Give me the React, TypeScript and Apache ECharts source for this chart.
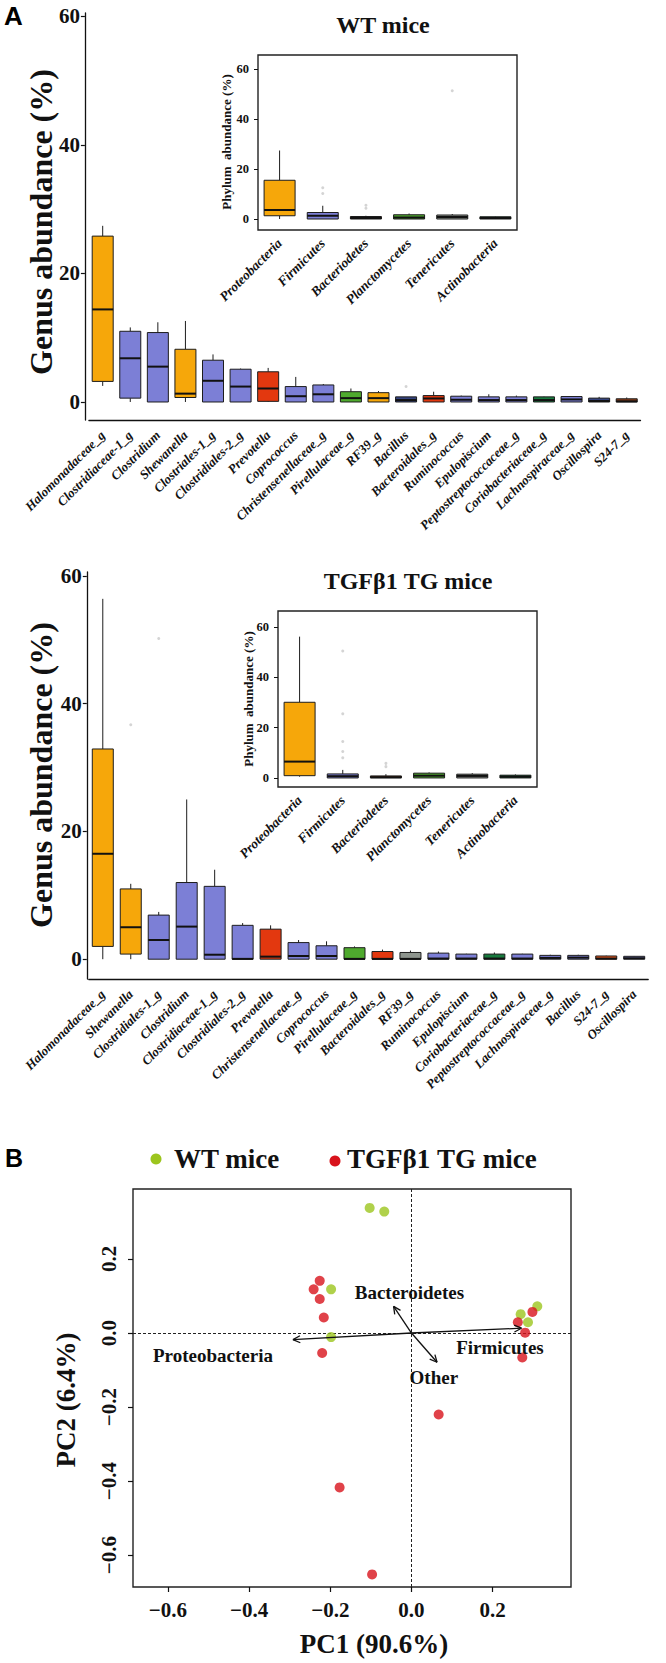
import React, { useEffect, useRef } from 'react';
import * as echarts from 'echarts';

// ---------- DATA ----------
const wtGenus = ['Halomonadaceae_g', 'Clostridiaceae-1_g', 'Clostridium', 'Shewanella', 'Clostriales-1_g', 'Clostridiales-2_g', 'Prevotella', 'Coprococcus', 'Christensenellaceae_g', 'Pirellulaceae_g', 'RF39_g', 'Bacillus', 'Bacteroidales_g', 'Ruminococcus', 'Epulopiscium', 'Peptostreptococcaceae_g', 'Coriobacteriaceae_g', 'Lachnospiraceae_g', 'Oscillospira', 'S24-7_g'];
// [min, Q1, median, Q3, max]
const wtGenusStats = [
  [2.5, 3.2, 14.4, 25.8, 27.4],
  [0, 0.6, 6.8, 11.0, 11.6],
  [0, 0, 5.5, 10.8, 12.4],
  [0, 0.7, 1.3, 8.2, 12.6],
  [0, 0, 3.3, 6.5, 7.4],
  [0, 0, 2.4, 5.1, 5.2],
  [0, 0.1, 2.1, 4.7, 5.3],
  [0, 0, 0.9, 2.4, 3.9],
  [0, 0, 1.2, 2.65, 2.8],
  [0, 0, 0.6, 1.6, 2.1],
  [0, 0, 0.6, 1.45, 1.7],
  [0, 0, 0.3, 0.8, 0.8],
  [0, 0, 0.55, 1.0, 1.6],
  [0, 0, 0.35, 0.9, 1.0],
  [0, 0, 0.3, 0.8, 1.2],
  [0, 0, 0.3, 0.8, 1.0],
  [0, 0, 0.3, 0.8, 0.85],
  [0, 0, 0.4, 0.85, 0.9],
  [0, 0, 0.15, 0.6, 0.8],
  [0, 0, 0.1, 0.5, 0.7],
];
const wtGenusOutliers = [[11, 2.4]];

const tgGenus = ['Halomonadaceae_g', 'Shewanella', 'Clostridiales-1_g', 'Clostridium', 'Clostridiaceae-1_g', 'Clostridiales-2_g', 'Prevotella', 'Christensenellaceae_g', 'Coprococcus', 'Pirellulaceae_g', 'Bacteroidales_g', 'RF39_g', 'Ruminococcus', 'Epulopiscium', 'Coriobacteriaceae_g', 'Peptostreptococcaceae_g', 'Lachnospiraceae_g', 'Bacillus', 'S24-7_g', 'Oscillospira'];
const tgGenusStats = [
  [0, 2.0, 16.5, 32.9, 56.4],
  [0, 0.8, 5.0, 11.0, 11.8],
  [0, 0, 3.0, 6.9, 7.4],
  [0, 0, 5.1, 12.0, 25.0],
  [0, 0, 0.7, 11.4, 14.0],
  [0, 0, 0.05, 5.3, 5.65],
  [0, 0, 0.4, 4.7, 5.3],
  [0, 0, 0.5, 2.6, 3.0],
  [0, 0, 0.5, 2.1, 2.8],
  [0, 0, 0.05, 1.8, 2.0],
  [0, 0, 0.05, 1.2, 1.5],
  [0, 0, 0.05, 1.05, 1.35],
  [0, 0, 0.1, 0.95, 1.2],
  [0, 0, 0.1, 0.8, 0.85],
  [0, 0, 0.1, 0.8, 1.05],
  [0, 0, 0.1, 0.8, 0.85],
  [0, 0, 0.2, 0.6, 0.7],
  [0, 0, 0.25, 0.6, 0.7],
  [0, 0, 0.1, 0.5, 0.55],
  [0, 0, 0.15, 0.45, 0.5],
];
const tgGenusOutliers = [[1, 36.7], [2, 50.2]];

const phyla = ['Proteobacteria', 'Firmicutes', 'Bacteriodetes', 'Planctomycetes', 'Tenericutes', 'Actinobacteria'];
const wtPhylumStats = [
  [0, 1.3, 3.6, 15.5, 27.4],
  [0, 0, 1.3, 2.6, 5.3],
  [0, 0, 0.4, 1.0, 1.3],
  [0, 0, 0.6, 1.7, 2.2],
  [0, 0, 0.8, 1.6, 2.0],
  [0, 0, 0.4, 0.9, 1.0],
];
const wtPhylumOutliers = [[1, 10.2], [1, 12.5], [2, 4.3], [2, 5.5], [4, 51.3]];
const tgPhylumStats = [
  [0.5, 0.9, 6.5, 30.1, 56.2],
  [0, 0, 0.7, 1.6, 3.2],
  [0, 0, 0.3, 0.8, 1.5],
  [0, 0, 0.9, 1.9, 2.2],
  [0, 0, 0.8, 1.5, 1.9],
  [0, 0, 0.5, 1.1, 1.4],
];
const tgPhylumOutliers = [[1, 8], [1, 10.5], [1, 14.5], [1, 25.5], [1, 50.5], [2, 4.5], [2, 5.8]];

const genusTicks = [0, 20, 40, 60];

const wtPC1 = [-0.103, -0.067, -0.198, -0.198, 0.269, 0.310, 0.287];
const wtPC2 = [0.338, 0.328, 0.118, -0.011, 0.051, 0.072, 0.029];
const tgPC1 = [-0.226, -0.241, -0.226, -0.216, -0.220, 0.262, 0.298, 0.280, 0.273, 0.067, -0.177, -0.097];
const tgPC2 = [0.141, 0.118, 0.092, 0.042, -0.054, 0.029, 0.057, 0.001, -0.066, -0.220, -0.417, -0.652];
const loadingNames = ['Proteobacteria', 'Firmicutes', 'Bacteroidetes', 'Other'];
const loadingPC1 = [-0.292, 0.271, -0.044, 0.063];
const loadingPC2 = [-0.018, 0.013, 0.072, -0.079];
const loadingLabelPC1 = [-0.489, 0.218, -0.005, 0.055];
const loadingLabelPC2 = [-0.062, -0.040, 0.109, -0.119];
const pcTicks = [-0.6, -0.4, -0.2, 0.0, 0.2];

// ---------- STYLE ----------
const SERIF = 'Liberation Serif';
const SANS = 'Liberation Sans';
const ORANGE = '#F6A70A';
const BLUE = '#7C7FD6';
const RED = '#E3380F';
const GREEN = '#4FAA2E';
const DKGREEN = '#187A3E';
const NAVY = '#34437E';
const BROWN = '#8A3B17';
const GRAY = '#8E958E';
const ORANGERED = '#E9561B';
const INK = '#111';

const wtGenusColors = [ORANGE, BLUE, BLUE, ORANGE, BLUE, BLUE, RED, BLUE, BLUE, GREEN, ORANGE, NAVY, RED, BLUE, BLUE, BLUE, DKGREEN, BLUE, NAVY, BROWN];
const tgGenusColors = [ORANGE, ORANGE, BLUE, BLUE, BLUE, BLUE, RED, BLUE, BLUE, GREEN, RED, GRAY, BLUE, BLUE, DKGREEN, BLUE, BLUE, BLUE, ORANGERED, BLUE];
const phylumColors = [ORANGE, BLUE, BROWN, GREEN, GRAY, DKGREEN];

const richNum = (size: number) => ({ t: { fontFamily: SERIF, fontWeight: 'bold', fontSize: size, color: INK } });
const intFmt = (v: number) => `{t|${Math.round(v)}}`;
const pcFmt = (v: number) => {
  const r = Math.round(v * 10) / 10;
  const s = r === 0 ? '0.0' : (r < 0 ? '\u2212' : '') + Math.abs(r).toFixed(1);
  return `{t|${s}}`;
};

function makeBoxRender(colors: string[], boxW: number) {
  return (params: any, api: any) => {
    const i = api.value(0);
    const pts = [1, 2, 3, 4, 5].map((d) => api.coord([i, api.value(d)]));
    const [pMin, pQ1, pMed, pQ3, pMax] = pts;
    const x = pMed[0];
    const h = boxW / 2;
    const stroke = '#1d1d1d';
    return {
      type: 'group',
      children: [
        { type: 'line', shape: { x1: x, y1: pMax[1], x2: x, y2: pQ3[1] }, style: { stroke, lineWidth: 1 } },
        { type: 'line', shape: { x1: x, y1: pQ1[1], x2: x, y2: pMin[1] }, style: { stroke, lineWidth: 1 } },
        {
          type: 'rect',
          shape: { x: x - h, y: pQ3[1], width: boxW, height: Math.max(pQ1[1] - pQ3[1], 1.5) },
          style: { fill: colors[params.dataIndex], stroke, lineWidth: 1 },
        },
        { type: 'line', shape: { x1: x - h, y1: pMed[1], x2: x + h, y2: pMed[1] }, style: { stroke: '#111', lineWidth: 2 } },
      ],
    };
  };
}

function boxSeries(stats: number[][], colors: string[], idx: number, boxW: number) {
  return {
    type: 'custom',
    xAxisIndex: idx,
    yAxisIndex: idx,
    data: stats.map((s, i) => [i, ...s]),
    encode: { x: 0, y: [1, 2, 3, 4, 5] },
    renderItem: makeBoxRender(colors, boxW),
    z: 3,
  };
}

function outlierSeries(pts: number[][], idx: number) {
  return {
    type: 'scatter',
    xAxisIndex: idx,
    yAxisIndex: idx,
    data: pts,
    symbolSize: 3,
    itemStyle: { color: '#c9c9c9' },
    silent: true,
    z: 2,
  };
}

const mainXAxis = (grid: number, data: string[]) => ({
  gridIndex: grid,
  type: 'category',
  data,
  axisLine: { onZero: false, lineStyle: { color: INK, width: 1.3 } },
  axisTick: { alignWithLabel: true, length: 5, lineStyle: { color: INK, width: 1.2 } },
  axisLabel: { interval: 0, rotate: 45, fontSize: 13, fontStyle: 'italic', fontWeight: 'bold', fontFamily: SERIF, color: INK, margin: 13 },
  splitLine: { show: false },
});
const insetXAxis = (grid: number, data: string[]) => ({
  gridIndex: grid,
  type: 'category',
  data,
  axisLine: { show: false, onZero: false },
  axisTick: { alignWithLabel: true, length: 4, lineStyle: { color: INK } },
  axisLabel: { interval: 0, rotate: 45, fontSize: 13.5, fontStyle: 'italic', fontWeight: 'bold', fontFamily: SERIF, color: INK, margin: 11 },
  splitLine: { show: false },
});
const mainYAxis = (grid: number, min: number, max: number, offset: number) => ({
  gridIndex: grid,
  type: 'value',
  min,
  max,
  offset,
  axisLine: { show: true, onZero: false, lineStyle: { color: INK, width: 1.3 } },
  axisTick: { show: true, length: 4, customValues: genusTicks, lineStyle: { color: INK, width: 1.2 } },
  axisLabel: { customValues: genusTicks, formatter: intFmt, rich: richNum(21), fontSize: 21, fontWeight: 'bold', fontFamily: SERIF, color: INK, margin: 5 },
  splitLine: { show: false },
});
const insetYAxis = (grid: number, min: number, max: number) => ({
  gridIndex: grid,
  type: 'value',
  min,
  max,
  axisLine: { show: false, onZero: false },
  axisTick: { show: true, length: 4, customValues: genusTicks, lineStyle: { color: INK } },
  axisLabel: { customValues: genusTicks, formatter: intFmt, rich: richNum(12.5), fontSize: 12.5, fontWeight: 'bold', fontFamily: SERIF, color: INK, margin: 9 },
  splitLine: { show: false },
});

const titleText = (text: string, x: number, y: number, size: number, rot = 0, extra: any = {}) => ({
  type: 'text',
  x,
  y,
  rotation: rot,
  style: { text, fill: INK, fontSize: size, fontWeight: 'bold', fontFamily: SERIF, align: 'center', verticalAlign: 'middle', ...extra },
  z: 10,
});

export default function App() {
  const ref = useRef<HTMLDivElement>(null);
  useEffect(() => {
    if (!ref.current) return;
    const chart = echarts.init(ref.current, undefined, { renderer: 'svg' });
    const option: any = {
      animation: false,
      backgroundColor: '#fff',
      grid: [
        { left: 88.9, top: 13, width: 551.6, height: 407 },
        { left: 258, top: 55, width: 259, height: 175, show: true, borderColor: '#222', borderWidth: 1.4, backgroundColor: 'transparent' },
        { left: 88.8, top: 572, width: 559.4, height: 407 },
        { left: 278, top: 611, width: 259, height: 176, show: true, borderColor: '#222', borderWidth: 1.4, backgroundColor: 'transparent' },
        { left: 133, top: 1189, width: 438, height: 398, show: true, borderColor: '#222', borderWidth: 1.4, backgroundColor: 'transparent' },
      ],
      xAxis: [
        mainXAxis(0, wtGenus),
        insetXAxis(1, phyla),
        mainXAxis(2, tgGenus),
        insetXAxis(3, phyla),
        {
          gridIndex: 4,
          type: 'value',
          min: -0.686,
          max: 0.393,
          axisLine: { show: false, onZero: false },
          axisTick: { show: true, length: 5, customValues: pcTicks, lineStyle: { color: INK, width: 1.2 } },
          axisLabel: { customValues: pcTicks, formatter: pcFmt, rich: richNum(21), fontSize: 21, fontWeight: 'bold', fontFamily: SERIF, color: INK, margin: 12 },
          splitLine: { show: false },
        },
      ],
      yAxis: [
        mainYAxis(0, -2.8, 60.5, 4),
        insetYAxis(1, -4.4, 65.6),
        mainYAxis(2, -3.1, 60.6, 2),
        insetYAxis(3, -3.6, 66.4),
        {
          gridIndex: 4,
          type: 'value',
          min: -0.686,
          max: 0.389,
          axisLine: { show: false, onZero: false },
          axisTick: { show: true, length: 5, customValues: pcTicks, lineStyle: { color: INK, width: 1.2 } },
          axisLabel: { customValues: pcTicks, formatter: pcFmt, rich: richNum(21), rotate: 90, fontSize: 21, fontWeight: 'bold', fontFamily: SERIF, color: INK, margin: 14 },
          splitLine: { show: false },
        },
      ],
      series: [
        boxSeries(wtGenusStats, wtGenusColors, 0, 21),
        outlierSeries(wtGenusOutliers, 0),
        boxSeries(wtPhylumStats, phylumColors, 1, 31),
        outlierSeries(wtPhylumOutliers, 1),
        boxSeries(tgGenusStats, tgGenusColors, 2, 21),
        outlierSeries(tgGenusOutliers, 2),
        boxSeries(tgPhylumStats, phylumColors, 3, 31),
        outlierSeries(tgPhylumOutliers, 3),
        {
          type: 'scatter',
          name: 'WT mice',
          xAxisIndex: 4,
          yAxisIndex: 4,
          data: wtPC1.map((x, i) => [x, wtPC2[i]]),
          symbolSize: 10,
          itemStyle: { color: '#9CC51E' },
          z: 5,
          markLine: {
            silent: true,
            symbol: 'none',
            label: { show: false },
            lineStyle: { type: [3, 2], color: '#222', width: 1 },
            data: [{ xAxis: 0 }, { yAxis: 0 }],
          },
        },
        {
          type: 'scatter',
          name: 'TGF\u03b21 TG mice',
          xAxisIndex: 4,
          yAxisIndex: 4,
          data: tgPC1.map((x, i) => [x, tgPC2[i]]),
          symbolSize: 10,
          itemStyle: { color: '#D8131C' },
          z: 5,
        },
        {
          type: 'custom',
          xAxisIndex: 4,
          yAxisIndex: 4,
          data: loadingPC1.map((x, i) => [x, loadingPC2[i]]),
          z: 6,
          renderItem: (params: any, api: any) => {
            const p0 = api.coord([0, 0]);
            const p1 = api.coord([api.value(0), api.value(1)]);
            const ang = Math.atan2(p1[1] - p0[1], p1[0] - p0[0]);
            const L = 8;
            const a1 = ang + Math.PI - 0.45;
            const a2 = ang + Math.PI + 0.45;
            const st = { stroke: '#111', lineWidth: 1.3 };
            return {
              type: 'group',
              children: [
                { type: 'line', shape: { x1: p0[0], y1: p0[1], x2: p1[0], y2: p1[1] }, style: st },
                { type: 'line', shape: { x1: p1[0], y1: p1[1], x2: p1[0] + L * Math.cos(a1), y2: p1[1] + L * Math.sin(a1) }, style: st },
                { type: 'line', shape: { x1: p1[0], y1: p1[1], x2: p1[0] + L * Math.cos(a2), y2: p1[1] + L * Math.sin(a2) }, style: st },
              ],
            };
          },
        },
        {
          type: 'custom',
          xAxisIndex: 4,
          yAxisIndex: 4,
          data: loadingLabelPC1.map((x, i) => [x, loadingLabelPC2[i]]),
          z: 7,
          renderItem: (params: any, api: any) => {
            const p = api.coord([api.value(0), api.value(1)]);
            return {
              type: 'text',
              x: p[0],
              y: p[1],
              style: {
                text: loadingNames[params.dataIndex],
                fill: INK,
                fontSize: 19,
                fontWeight: 'bold',
                fontFamily: SERIF,
                align: 'center',
                verticalAlign: 'middle',
              },
            };
          },
        },
      ],
      graphic: [
        { type: 'text', x: 4, y: 16, style: { text: 'A', fill: '#000', fontSize: 26, fontWeight: 'bold', fontFamily: SANS, verticalAlign: 'middle' } },
        { type: 'text', x: 5, y: 1158, style: { text: 'B', fill: '#000', fontSize: 25, fontWeight: 'bold', fontFamily: SANS, verticalAlign: 'middle' } },
        titleText('WT mice', 383, 25, 24),
        titleText('TGF\u03b21 TG mice', 408, 581, 24),
        titleText('Genus abundance (%)', 41, 222, 32, Math.PI / 2),
        titleText('Genus abundance (%)', 41, 775, 32, Math.PI / 2),
        titleText('Phylum  abundance (%)', 226, 142, 13, Math.PI / 2),
        titleText('Phylum  abundance (%)', 248, 699, 13, Math.PI / 2),
        titleText('PC2 (6.4%)', 66, 1400, 27, Math.PI / 2),
        titleText('PC1 (90.6%)', 374, 1644, 27),
        { type: 'circle', shape: { cx: 156, cy: 1159, r: 5.5 }, style: { fill: '#9CC51E' } },
        titleText('WT mice', 174, 1159, 27, 0, { align: 'left' }),
        { type: 'circle', shape: { cx: 335, cy: 1161, r: 5.5 }, style: { fill: '#D8131C' } },
        titleText('TGF\u03b21 TG mice', 347, 1159, 27, 0, { align: 'left' }),
      ],
    };
    chart.setOption(option);
    return () => chart.dispose();
  }, []);
  return <div ref={ref} style={{ position: 'absolute', left: 0, top: 0, width: 666, height: 1663 }} />;
}
